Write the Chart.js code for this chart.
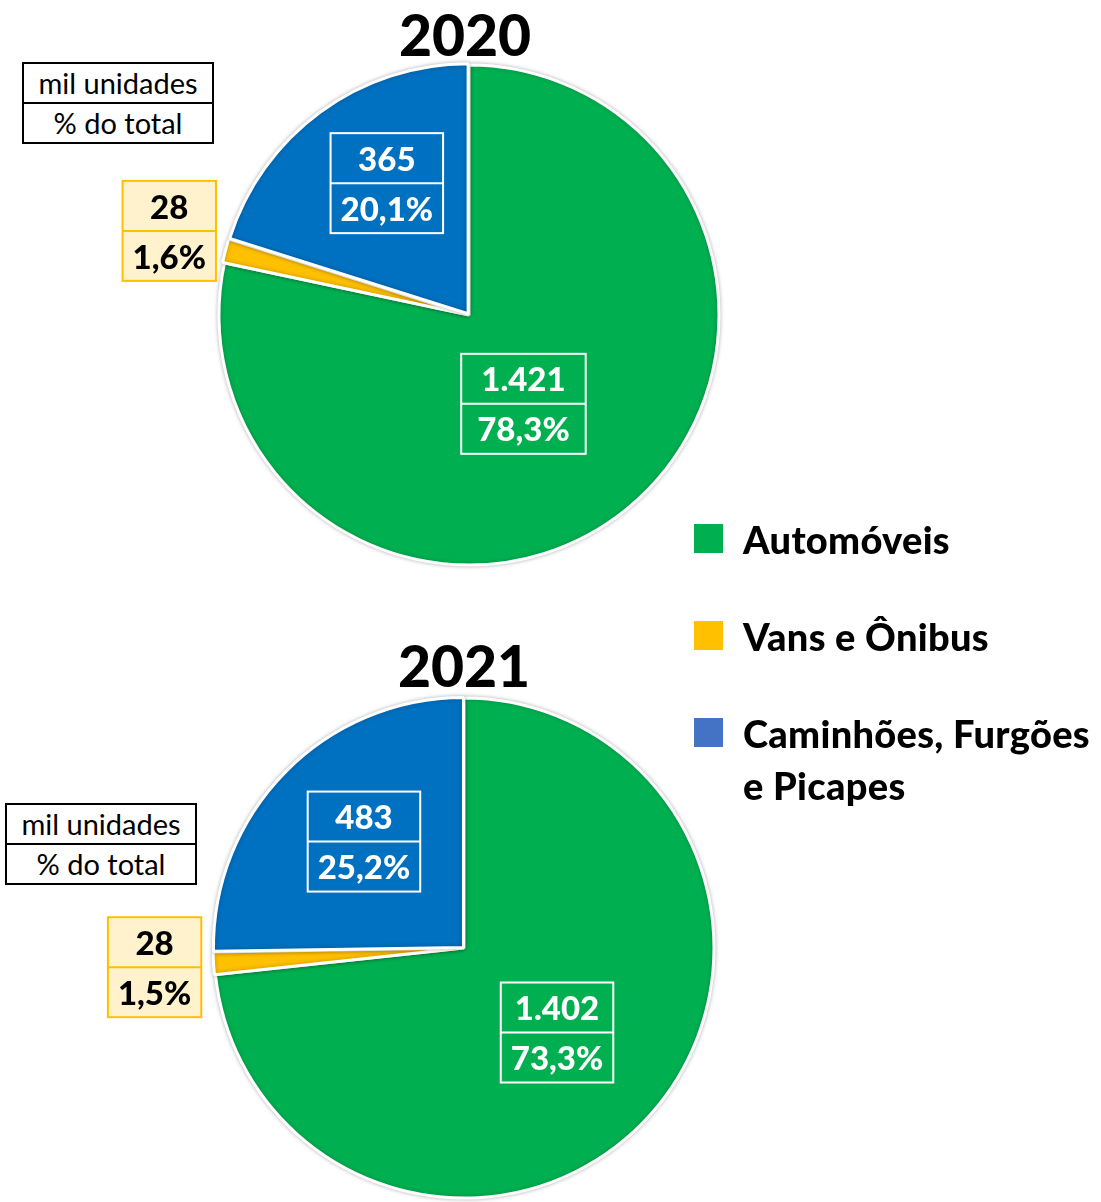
<!DOCTYPE html>
<html>
<head>
<meta charset="utf-8">
<script src="https://cdn.jsdelivr.net/npm/chart.js@4.4.1/dist/chart.umd.min.js"></script>
<style>
  body { margin: 0; width: 1101px; height: 1202px; overflow: hidden; background: #fff; font-family: Lato, sans-serif; position: relative; }
  canvas { position: absolute; left: 0; }
  .title { position: absolute; width: 200px; text-align: center; font: 900 57px Lato, sans-serif; color: #000; line-height: 56px; }
  .units { position: absolute; width: 188px; border: 2px solid #000; font: 29px Lato, sans-serif; color: #000; text-align: center; background: #fff; }
  .units div { height: 38px; line-height: 38px; }
  .units div + div { border-top: 2px solid #000; }
  #legend { position: absolute; left: 694px; top: 513px; z-index: 5; }
  .item { position: relative; padding-left: 49px; font: 900 38px Lato, sans-serif; line-height: 52px; color: #000; width: 380px; margin-bottom: 45px; white-space: nowrap; letter-spacing: 0.3px; }
  .item span { position: absolute; left: 0; top: 11px; width: 29px; height: 29px; }
</style>
</head>
<body>
<canvas id="pie2020"></canvas>
<canvas id="pie2021"></canvas>
<div class="title" style="left:365px;top:6px">2020</div>
<div class="title" style="left:364px;top:637px">2021</div>
<div class="units" style="left:22px;top:62px"><div>mil unidades</div><div>% do total</div></div>
<div class="units" style="left:5px;top:803px"><div>mil unidades</div><div>% do total</div></div>
<div id="legend"></div>
<script>
const categories = ['Automóveis', 'Vans e Ônibus', 'Caminhões, Furgões e Picapes'];
const units2020 = [1421, 28, 365];
const units2021 = [1402, 28, 483];
const share2020 = ['78,3%', '1,6%', '20,1%'];
const share2021 = ['73,3%', '1,5%', '25,2%'];

const sliceColors = ['#00B050', '#FFC000', '#0070C0'];
const legendColors = ['#00B050', '#FFC000', '#4472C4'];

function fmt(n) {
  return String(n).replace(/\B(?=(\d{3})+(?!\d))/g, '.');
}

// caixas de rótulo (valor / %)
const boxPlugin = {
  id: 'boxes',
  afterDatasetsDraw(chart, args, opts) {
    const ctx = chart.ctx;
    const meta = chart.getDatasetMeta(0);
    const values = chart.data.datasets[0].data;
    ctx.save();
    ctx.font = '900 33px Lato, sans-serif';
    ctx.textAlign = 'center';
    ctx.textBaseline = 'middle';
    meta.data.forEach((arc, i) => {
      const p = arc.getProps(['x', 'y', 'startAngle', 'endAngle'], true);
      const mid = (p.startAngle + p.endAngle) / 2;
      const cx = p.x + Math.cos(mid) * opts.dist[i] + opts.nudge[i][0];
      const cy = p.y + Math.sin(mid) * opts.dist[i] + opts.nudge[i][1];
      const t1 = fmt(values[i]);
      const t2 = opts.shares[i];
      const w = Math.max(ctx.measureText(t1).width, ctx.measureText(t2).width) + opts.pad[i];
      const h = 50;
      const x0 = cx - w / 2, y0 = cy - h;
      const light = i === 1;
      if (light) {
        ctx.fillStyle = '#FFF2CC';
        ctx.fillRect(x0, y0, w, 2 * h);
      }
      ctx.strokeStyle = light ? '#FFC000' : '#fff';
      ctx.lineWidth = 2;
      ctx.strokeRect(x0, y0, w, 2 * h);
      ctx.beginPath();
      ctx.moveTo(x0, cy);
      ctx.lineTo(x0 + w, cy);
      ctx.stroke();
      ctx.fillStyle = light ? '#000' : '#fff';
      ctx.fillText(t1, cx, cy - h / 2 + 2);
      ctx.fillText(t2, cx, cy + h / 2 + 2);
    });
    ctx.restore();
  }
};

const shadowPlugin = {
  id: 'shadow',
  beforeDatasetsDraw(chart) {
    chart.ctx.save();
    chart.ctx.shadowColor = 'rgba(0,0,0,0.25)';
    chart.ctx.shadowBlur = 4;
  },
  afterDatasetsDraw(chart) {
    chart.ctx.restore();
  }
};

function makePie(id, top, height, rightPad, values, shares, offsets, dist, nudge, pad) {
  const el = document.getElementById(id);
  el.width = 1101;
  el.height = height;
  el.style.top = top + 'px';
  el.style.width = '1101px';
  el.style.height = height + 'px';
  return new Chart(el, {
    type: 'pie',
    data: {
      labels: categories,
      datasets: [{
        data: values,
        backgroundColor: sliceColors,
        borderColor: '#fff',
        borderWidth: 3,
        offset: offsets
      }]
    },
    options: {
      responsive: false,
      animation: false,
      events: [],
      radius: 250,
      layout: { padding: { left: 0, right: rightPad, top: 0, bottom: 0 } },
      plugins: {
        legend: { display: false },
        tooltip: { enabled: false },
        boxes: { shares, dist, nudge, pad }
      }
    },
    plugins: [shadowPlugin, boxPlugin]
  });
}

makePie('pie2020', 0, 630, 1101 - 938, units2020, share2020, [0, 4, 6],
  [104, 310, 156], [[-11, 8], [0, -5], [10, -6]], [32, 20, 20]);
makePie('pie2021', 647, 602, 1101 - 928, units2021, share2021, [0, 2, 3],
  [125, 312, 146], [[0, 1], [2, 0], [4, -4]], [20, 20, 20]);

// legenda: quebra de linha como no original
const legendText = ['Automóveis', 'Vans e Ônibus', 'Caminhões, Furgões<br>e Picapes'];
const legend = document.getElementById('legend');
categories.forEach((c, i) => {
  const d = document.createElement('div');
  d.className = 'item';
  d.innerHTML = '<span style="background:' + legendColors[i] + '"></span>' + legendText[i];
  legend.appendChild(d);
});
</script>
</body>
</html>
